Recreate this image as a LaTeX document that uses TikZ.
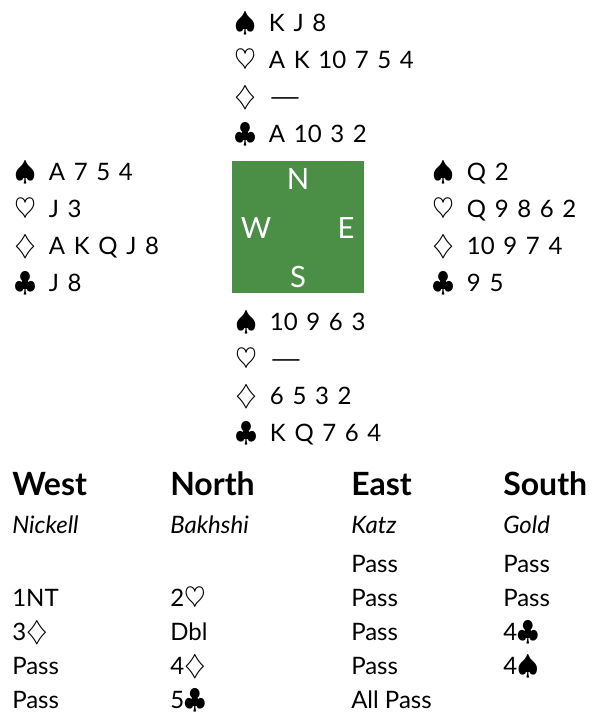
\documentclass[tikz,border=0pt]{standalone}
\usepackage{fontspec}
\setmainfont{Lato}
\usepackage{tikz}
\definecolor{feltgreen}{RGB}{75,142,70}
\newcommand{\suitsym}[1]{\scalebox{1.2}{$#1$}}
\newcommand{\void}{\scalebox{1.7}[1]{---}}
\newcommand{\cardfont}{\fontsize{18}{22}\selectfont\spaceskip=0.36em\relax}

\begin{document}
\begin{tikzpicture}[x=0.75pt,y=-0.75pt,
    cards/.style={anchor=base west,inner sep=0pt,font=\cardfont},
    seat/.style={anchor=base,inner sep=0pt,text=white,font=\fontsize{22}{26}\selectfont},
    bidhead/.style={anchor=base west,inner sep=0pt,font=\fontsize{24}{28}\selectfont\bfseries},
    player/.style={anchor=base west,inner sep=0pt,font=\fontsize{18}{22}\selectfont\itshape},
    bid/.style={anchor=base west,inner sep=0pt,font=\fontsize{18}{22}\selectfont}]
  \useasboundingbox (0,0) rectangle (601,715);

  % the table
  \node[fill=feltgreen,inner sep=0pt,minimum width=99pt,minimum height=99pt] (table) at (298,227) {};
  \node[seat] (seatN) at (298,189) {N};
  \node[seat] (seatW) at (256,238) {W};
  \node[seat] (seatE) at (346,238) {E};
  \node[seat] (seatS) at (298,287) {S};

  % the four hands
  \foreach \c [count=\i] in {{\suitsym\spadesuit\hspace{0.55em}K J 8},
      {\suitsym\heartsuit\hspace{0.55em}A K 10 7 5 4},
      {\suitsym\diamondsuit\hspace{0.55em}\void},
      {\suitsym\clubsuit\hspace{0.55em}A 10 3 2}}
    \node[cards] (north\i) at (234,{31+37*(\i-1)}) {\c};
  \foreach \c [count=\i] in {{\suitsym\spadesuit\hspace{0.55em}A 7 5 4},
      {\suitsym\heartsuit\hspace{0.55em}J 3},
      {\suitsym\diamondsuit\hspace{0.55em}A K Q J 8},
      {\suitsym\clubsuit\hspace{0.55em}J 8}}
    \node[cards] (west\i) at (14,{180+37*(\i-1)}) {\c};
  \foreach \c [count=\i] in {{\suitsym\spadesuit\hspace{0.55em}Q 2},
      {\suitsym\heartsuit\hspace{0.55em}Q 9 8 6 2},
      {\suitsym\diamondsuit\hspace{0.55em}10 9 7 4},
      {\suitsym\clubsuit\hspace{0.55em}9 5}}
    \node[cards] (east\i) at (432,{180+37*(\i-1)}) {\c};
  \foreach \c [count=\i] in {{\suitsym\spadesuit\hspace{0.55em}10 9 6 3},
      {\suitsym\heartsuit\hspace{0.55em}\void},
      {\suitsym\diamondsuit\hspace{0.55em}6 5 3 2},
      {\suitsym\clubsuit\hspace{0.55em}K Q 7 6 4}}
    \node[cards] (south\i) at (235,{330+37*(\i-1)}) {\c};

  % the auction
  \node[bidhead] (hW) at (12,495) {West};
  \node[bidhead] (hN) at (170,495) {North};
  \node[bidhead] (hE) at (351,495) {East};
  \node[bidhead] (hS) at (503,495) {South};
  \node[player] (pW) at (12,533) {Nickell};
  \node[player] (pN) at (170,533) {Bakhshi};
  \node[player] (pE) at (351,533) {Katz};
  \node[player] (pS) at (503,533) {Gold};
  \node[bid] (b1E) at (351,572) {Pass};
  \node[bid] (b1S) at (503,572) {Pass};
  \node[bid] (b2W) at (12,606) {1NT};
  \node[bid] (b2N) at (170,606) {2\suitsym\heartsuit};
  \node[bid] (b2E) at (351,606) {Pass};
  \node[bid] (b2S) at (503,606) {Pass};
  \node[bid] (b3W) at (12,640) {3\suitsym\diamondsuit};
  \node[bid] (b3N) at (170,640) {Dbl};
  \node[bid] (b3E) at (351,640) {Pass};
  \node[bid] (b3S) at (503,640) {4\suitsym\clubsuit};
  \node[bid] (b4W) at (12,674) {Pass};
  \node[bid] (b4N) at (170,674) {4\suitsym\diamondsuit};
  \node[bid] (b4E) at (351,674) {Pass};
  \node[bid] (b4S) at (503,674) {4\suitsym\spadesuit};
  \node[bid] (b5W) at (12,708) {Pass};
  \node[bid] (b5N) at (170,708) {5\suitsym\clubsuit};
  \node[bid] (b5E) at (351,708) {All Pass};
\end{tikzpicture}
\end{document}
